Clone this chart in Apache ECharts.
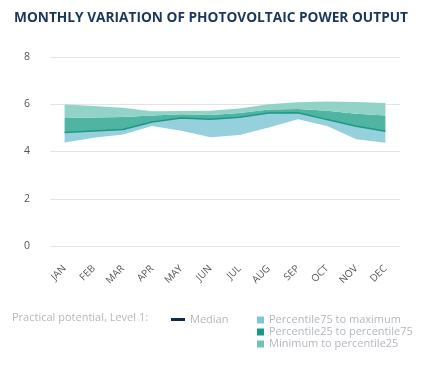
<!DOCTYPE html>
<html>
<head>
<meta charset="utf-8">
<script src="https://cdn.jsdelivr.net/npm/echarts@6/dist/echarts.min.js"></script>
<style>
html,body{margin:0;padding:0;background:#fff;}
#c{width:422px;height:366px;}
</style>
</head>
<body>
<div id="c"></div>
<script>
var months = ['JAN','FEB','MAR','APR','MAY','JUN','JUL','AUG','SEP','OCT','NOV','DEC'];
var yTicks = [0, 2, 4, 6, 8];
// Edges of the bands as drawn (top to bottom)
var topEdge    = [5.99, 5.93, 5.85, 5.70, 5.71, 5.73, 5.82, 6.00, 6.08, 6.12, 6.09, 6.05];
var upperEdge  = [5.42, 5.44, 5.46, 5.52, 5.58, 5.55, 5.63, 5.78, 5.80, 5.72, 5.60, 5.52];
var median     = [4.80, 4.87, 4.93, 5.25, 5.42, 5.36, 5.45, 5.63, 5.64, 5.35, 5.07, 4.86];
var bottomEdge = [4.38, 4.58, 4.72, 5.08, 4.88, 4.60, 4.70, 5.02, 5.36, 5.08, 4.52, 4.37];

function diff(a, b) { return a.map(function (v, i) { return +(v - b[i]).toFixed(3); }); }

var FONT = '"Open Sans", "Noto Sans", sans-serif';
var chart = echarts.init(document.getElementById('c'), null, {renderer: 'canvas'});

var bandSeries = function (name, data, color) {
  return {
    name: name, type: 'line', stack: 'band', data: data,
    symbol: 'none', lineStyle: {width: 0, opacity: 0},
    itemStyle: {color: color},
    areaStyle: {color: color, opacity: 1},
    z: 2
  };
};

chart.setOption({
  animation: false,
  title: {
    text: 'MONTHLY VARIATION OF PHOTOVOLTAIC POWER OUTPUT',
    left: 9, top: 6,
    textStyle: {fontFamily: FONT, fontWeight: 'bold', fontSize: 13.7, color: '#1a3759'}
  },
  grid: {left: 50, right: 22, top: 57, bottom: 120},
  xAxis: {
    type: 'category', data: months, boundaryGap: true,
    axisLine: {show: false}, axisTick: {show: false},
    axisLabel: {rotate: 45, margin: 21, fontFamily: FONT, fontSize: 10, color: '#555'}
  },
  yAxis: {
    type: 'value', min: yTicks[0], max: yTicks[yTicks.length - 1], interval: 2,
    axisLine: {show: false}, axisTick: {show: false},
    axisLabel: {margin: 20, fontFamily: FONT, fontSize: 10.5, color: '#555'},
    splitLine: {lineStyle: {color: '#e4e4e4', width: 1}}
  },
  legend: [
    {
      left: 166, top: 309, itemWidth: 14, itemHeight: 3, itemGap: 6,
      textStyle: {fontFamily: FONT, fontSize: 11, color: '#b3b8bf'},
      data: [{name: 'Median', icon: 'rect', itemStyle: {color: '#0e2a47'}}]
    },
    {
      left: 252, top: 309, orient: 'vertical', itemWidth: 7, itemHeight: 7, itemGap: 0,
      textStyle: {fontFamily: FONT, fontSize: 11, color: '#b3b8bf', lineHeight: 12},
      data: [
        {name: 'Percentile75 to maximum', icon: 'rect', itemStyle: {color: '#7cc8d5'}},
        {name: 'Percentile25 to percentile75', icon: 'rect', itemStyle: {color: '#159a86'}},
        {name: 'Minimum to percentile25', icon: 'rect', itemStyle: {color: '#6ec4b8'}}
      ]
    }
  ],
  graphic: [{
    type: 'text', left: 12, top: 312,
    style: {text: 'Practical potential, Level 1:', fontFamily: FONT, fontSize: 11, fill: '#b3b8bf'}
  }],
  series: [
    {name: 'base', type: 'line', stack: 'band', data: bottomEdge, symbol: 'none',
     lineStyle: {width: 0, opacity: 0}, silent: true},
    bandSeries('Percentile75 to maximum', diff(median, bottomEdge), '#95d0dc'),
    bandSeries('Percentile25 to percentile75', diff(upperEdge, median), '#4fb4a1'),
    bandSeries('Minimum to percentile25', diff(topEdge, upperEdge), '#91d3c6'),
    {name: 'Median', type: 'line', data: median, symbol: 'none',
     lineStyle: {color: '#1c9984', width: 1.5}, itemStyle: {color: '#0e2a47'}, z: 5}
  ]
});
</script>
</body>
</html>
